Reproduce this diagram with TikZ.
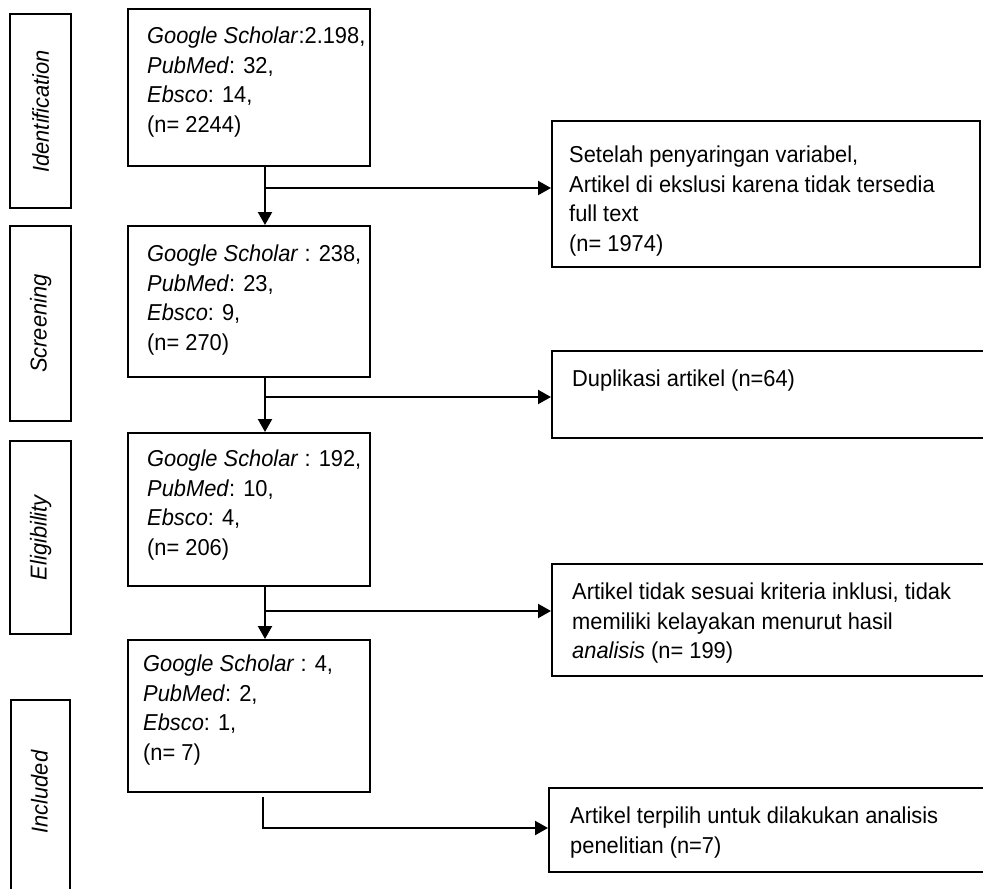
\documentclass[tikz,border=0pt]{standalone}
\usepackage{fontspec}
\setmainfont{Liberation Sans}[FakeStretch=0.95]
\usetikzlibrary{arrows.meta}
\begin{document}
\begin{tikzpicture}[x=1pt,y=-1pt,
  frame/.style={draw=black, line width=2.4pt, inner sep=0pt, anchor=north west},
  txt/.style={anchor=north west, inner sep=0pt, align=left, font=\fontsize{23}{29.5}\selectfont},
  stagetxt/.style={rotate=90, inner sep=0pt, font=\fontsize{23}{26}\selectfont\itshape},
  link/.style={draw=black, line width=2.2pt},
  arr/.style={link, -{Triangle[length=13pt,width=14pt]}},
]
\useasboundingbox (0,0) rectangle (983,889);
\clip (0,0) rectangle (983,889);

% stage boxes
\node[frame, minimum width=61pt, minimum height=194pt] (st1) at (9,13) {};
\node[frame, minimum width=61pt, minimum height=195pt] (st2) at (9,225) {};
\node[frame, minimum width=61pt, minimum height=193pt] (st3) at (9,440) {};
\node[frame, minimum width=59pt, minimum height=200pt] (st4) at (10,699) {};
\node[stagetxt] (lt1) at (st1.center) {Identification};
\node[stagetxt] (lt2) at (st2.center) {Screening};
\node[stagetxt] (lt3) at (st3.center) {Eligibility};
\node[stagetxt] (lt4) at (39.5,792) {Included};

% main boxes
\node[frame, minimum width=242pt, minimum height=157pt] (b1) at (127,8) {};
\node[frame, minimum width=242pt, minimum height=151pt] (b2) at (127,225) {};
\node[frame, minimum width=242pt, minimum height=153pt] (b3) at (127,432) {};
\node[frame, minimum width=242pt, minimum height=152pt] (b4) at (127,639) {};

\node[txt] (t1) at (147,27) {\textit{Google Scholar}:2.198,\\\textit{PubMed}: 32,\\\textit{Ebsco}: 14,\\(n= 2244)};
\node[txt] (t2) at (147,245) {\textit{Google Scholar} : 238,\\\textit{PubMed}: 23,\\\textit{Ebsco}: 9,\\(n= 270)};
\node[txt] (t3) at (147,450) {\textit{Google Scholar} : 192,\\\textit{PubMed}: 10,\\\textit{Ebsco}: 4,\\(n= 206)};
\node[txt] (t4) at (143,655) {\textit{Google Scholar} : 4,\\\textit{PubMed}: 2,\\\textit{Ebsco}: 1,\\(n= 7)};

% side boxes
\node[frame, minimum width=428pt, minimum height=146pt] (s1) at (551,120) {};
\node[frame, minimum width=445pt, minimum height=87pt] (s2) at (551,350) {};
\node[frame, minimum width=445pt, minimum height=112pt] (s3) at (551,563) {};
\node[frame, minimum width=448pt, minimum height=84pt] (s4) at (548,787) {};

\node[txt] (u1) at (569,146) {Setelah penyaringan variabel,\\Artikel di ekslusi karena tidak tersedia\\full text\\(n= 1974)};
\node[txt] (u2) at (572,370) {Duplikasi artikel (n=64)};
\node[txt] (u3) at (572,583) {Artikel tidak sesuai kriteria inklusi, tidak\\memiliki kelayakan menurut hasil\\\textit{analisis} (n= 199)};
\node[txt] (u4) at (570,807) {Artikel terpilih untuk dilakukan analisis\\penelitian (n=7)};

% connectors
\coordinate (j1) at (265,188);
\coordinate (j2) at (265,397);
\coordinate (j3) at (265,611);
\coordinate (j4) at (263,828);

\draw[arr] (b1.south -| j1) -- (b2.north -| j1);
\draw[arr] (j1) -- (j1 -| s1.west);
\draw[arr] (b2.south -| j2) -- (b3.north -| j2);
\draw[arr] (j2) -- (j2 -| s2.west);
\draw[arr] (b3.south -| j3) -- (b4.north -| j3);
\draw[arr] (j3) -- (j3 -| s3.west);
\draw[arr] ([yshift=-4pt]b4.south -| j4) -- (j4) -- (j4 -| s4.west);
\end{tikzpicture}
\end{document}
